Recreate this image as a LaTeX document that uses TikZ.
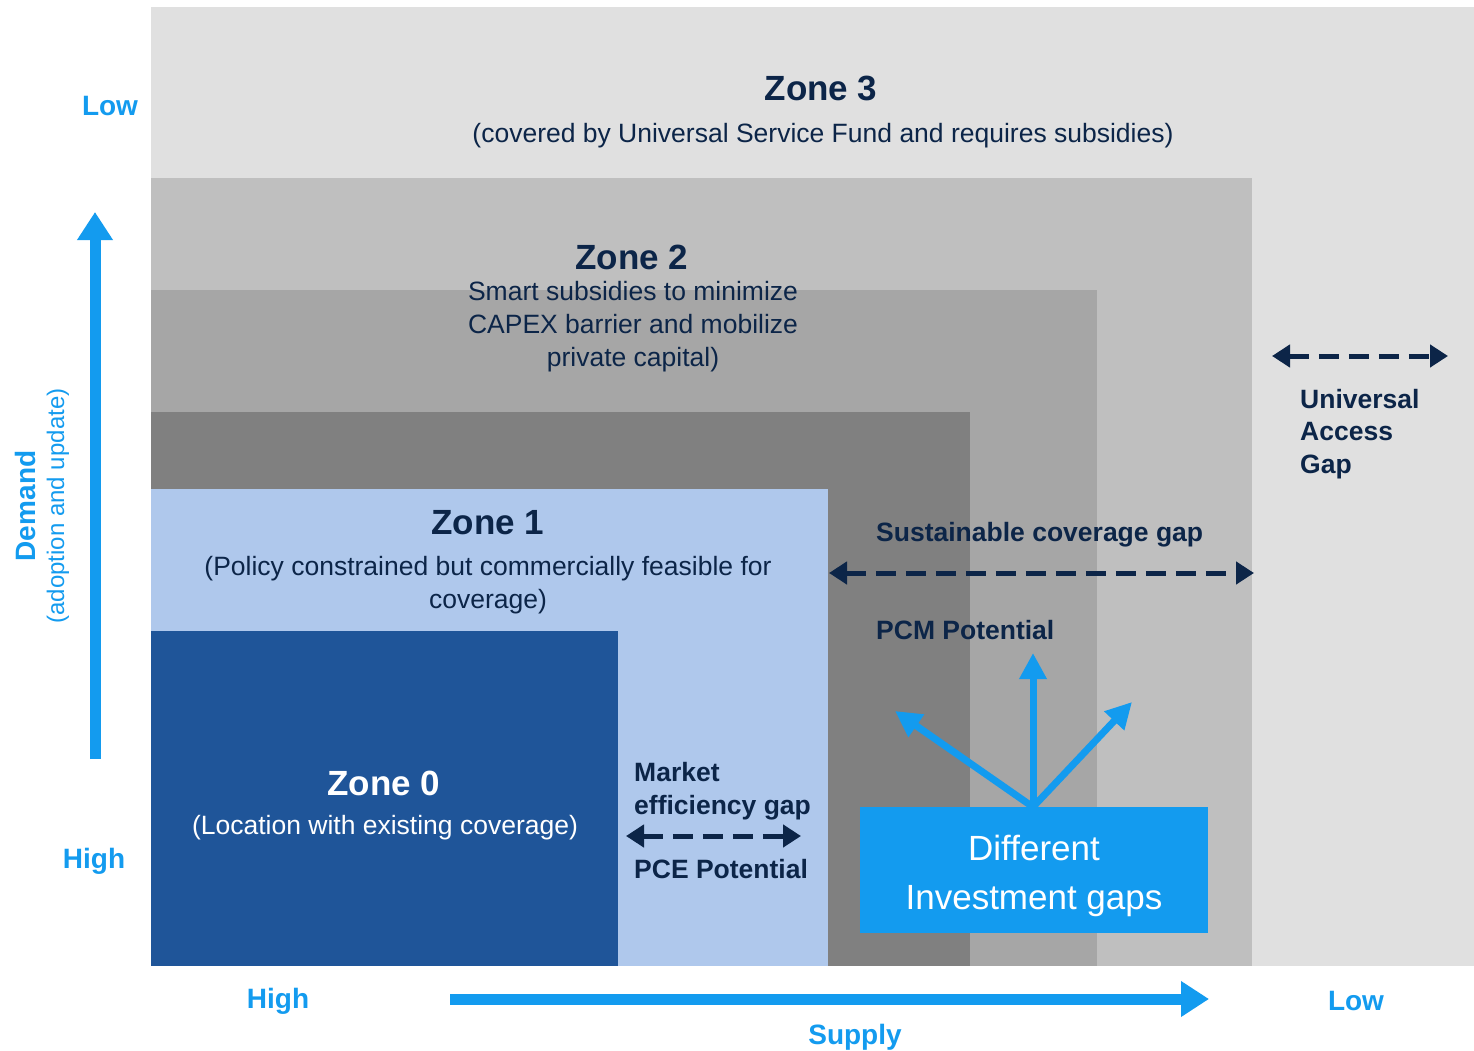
\documentclass[tikz,border=0pt]{standalone}
\usepackage{fontspec}
\setmainfont{Liberation Sans}
\usetikzlibrary{arrows.meta}
\definecolor{zthree}{HTML}{E0E0E0}
\definecolor{ztwo}{HTML}{BFBFBF}
\definecolor{zmid}{HTML}{A6A6A6}
\definecolor{zdark}{HTML}{808080}
\definecolor{zone}{HTML}{AFC8EC}
\definecolor{zzero}{HTML}{1F5599}
\definecolor{brightblue}{HTML}{139BEF}
\definecolor{navy}{HTML}{0C2548}
\tikzset{
  title/.style={font=\fontsize{35}{38}\selectfont\bfseries, text=navy, inner sep=0pt, anchor=center},
  sub/.style={font=\fontsize{26.5}{33}\selectfont, text=navy, inner sep=0pt, align=center, anchor=center},
  gaplabel/.style={font=\fontsize{26.5}{32.5}\selectfont\bfseries, text=navy, inner sep=0pt, align=left, anchor=west},
  axislabel/.style={font=\fontsize{28}{30}\selectfont\bfseries, text=brightblue, inner sep=0pt, anchor=center},
  gaparrow/.style={navy, line width=5pt, dash pattern=on 20pt off 10pt, {Triangle[length=18pt,width=22pt]}-{Triangle[length=18pt,width=22pt]}},
  bigarrow/.style={brightblue, line width=11pt, -{Triangle[length=28pt,width=34pt]}},
  invarrow/.style={brightblue, line width=7pt, -{Triangle[length=26pt,width=26pt]}},
}
\begin{document}
\begin{tikzpicture}[x=1pt,y=-1pt]
\useasboundingbox (0,0) rectangle (1474,1051);
% zone areas
\fill[zthree] (151,7) rectangle (1474,966);
\fill[ztwo] (151,178) rectangle (1252,966);
\fill[zmid] (151,290) rectangle (1097,966);
\fill[zdark] (151,412) rectangle (970,966);
\fill[zone] (151,489) rectangle (828,966);
\fill[zzero] (151,631) rectangle (618,966);

% zone texts
\node[title] (z3) at (821,88) {Zone 3};
\node[sub] (z3s) at (823,136) {(covered by Universal Service Fund and requires subsidies)};
\node[title] (z2) at (632,257) {Zone 2};
\node[sub] (z2s) at (633,327) {Smart subsidies to minimize\\CAPEX barrier and mobilize\\private capital)};
\node[title] (z1) at (488,523) {Zone 1};
\node[sub] (z1s) at (488,585) {(Policy constrained but commercially feasible for\\coverage)};
\node[title, text=white] (z0) at (384,783) {Zone 0};
\node[sub, text=white] (z0s) at (385,828) {(Location with existing coverage)};

% market efficiency gap
\node[gaplabel] (meg) at (634,791) {Market\\efficiency gap};
\coordinate (megL) at (626,836);
\coordinate (megR) at (801,836);
\draw[gaparrow] (megL) -- (megR);
\node[gaplabel] (pce) at (634,869) {PCE Potential};

% sustainable coverage gap
\node[gaplabel] (scg) at (876,535) {Sustainable coverage gap};
\coordinate (scgL) at (829,573);
\coordinate (scgR) at (1254,573);
\draw[gaparrow] (scgL) -- (scgR);
\node[gaplabel] (pcm) at (876,630) {PCM Potential};

% universal access gap
\coordinate (uagL) at (1272,356);
\coordinate (uagR) at (1448,356);
\draw[gaparrow] (uagL) -- (uagR);
\node[gaplabel] (uag) at (1300,434) {Universal\\Access\\Gap};

% investment gaps box
\node[fill=brightblue, minimum width=348pt, minimum height=126pt, inner sep=0pt] (inv) at (1034,870) {};
\node[text=white, inner sep=0pt, align=center, font=\fontsize{35}{49}\selectfont] (invtext) at (1034,876) {Different\\Investment gaps};
\coordinate (invTop) at (1033,807);
\coordinate (tipL) at (895,711);
\coordinate (tipU) at (1033,653);
\coordinate (tipR) at (1132,702);
\draw[invarrow] (invTop) -- (tipL);
\draw[invarrow] (invTop) -- (tipU);
\draw[invarrow] (invTop) -- (tipR);

% demand axis
\coordinate (dBot) at (95,759);
\coordinate (dTop) at (95,212);
\draw[bigarrow] (dBot) -- (dTop);
\node[axislabel] (dlow) at (110,106) {Low};
\node[axislabel] (dhigh) at (94,861) {High};
\node[axislabel, rotate=90] (dem) at (25,506) {Demand};
\node[font=\fontsize{24}{26}\selectfont, text=brightblue, rotate=90, inner sep=0pt] (demsub) at (58,506) {(adoption and update)};

% supply axis
\coordinate (sL) at (450,999);
\coordinate (sR) at (1209,999);
\draw[bigarrow] (sL) -- (sR);
\node[axislabel] (shigh) at (278,1001) {High};
\node[axislabel] (slow) at (1356,1001) {Low};
\node[axislabel] (sup) at (855,1037) {Supply};
\end{tikzpicture}
\end{document}
